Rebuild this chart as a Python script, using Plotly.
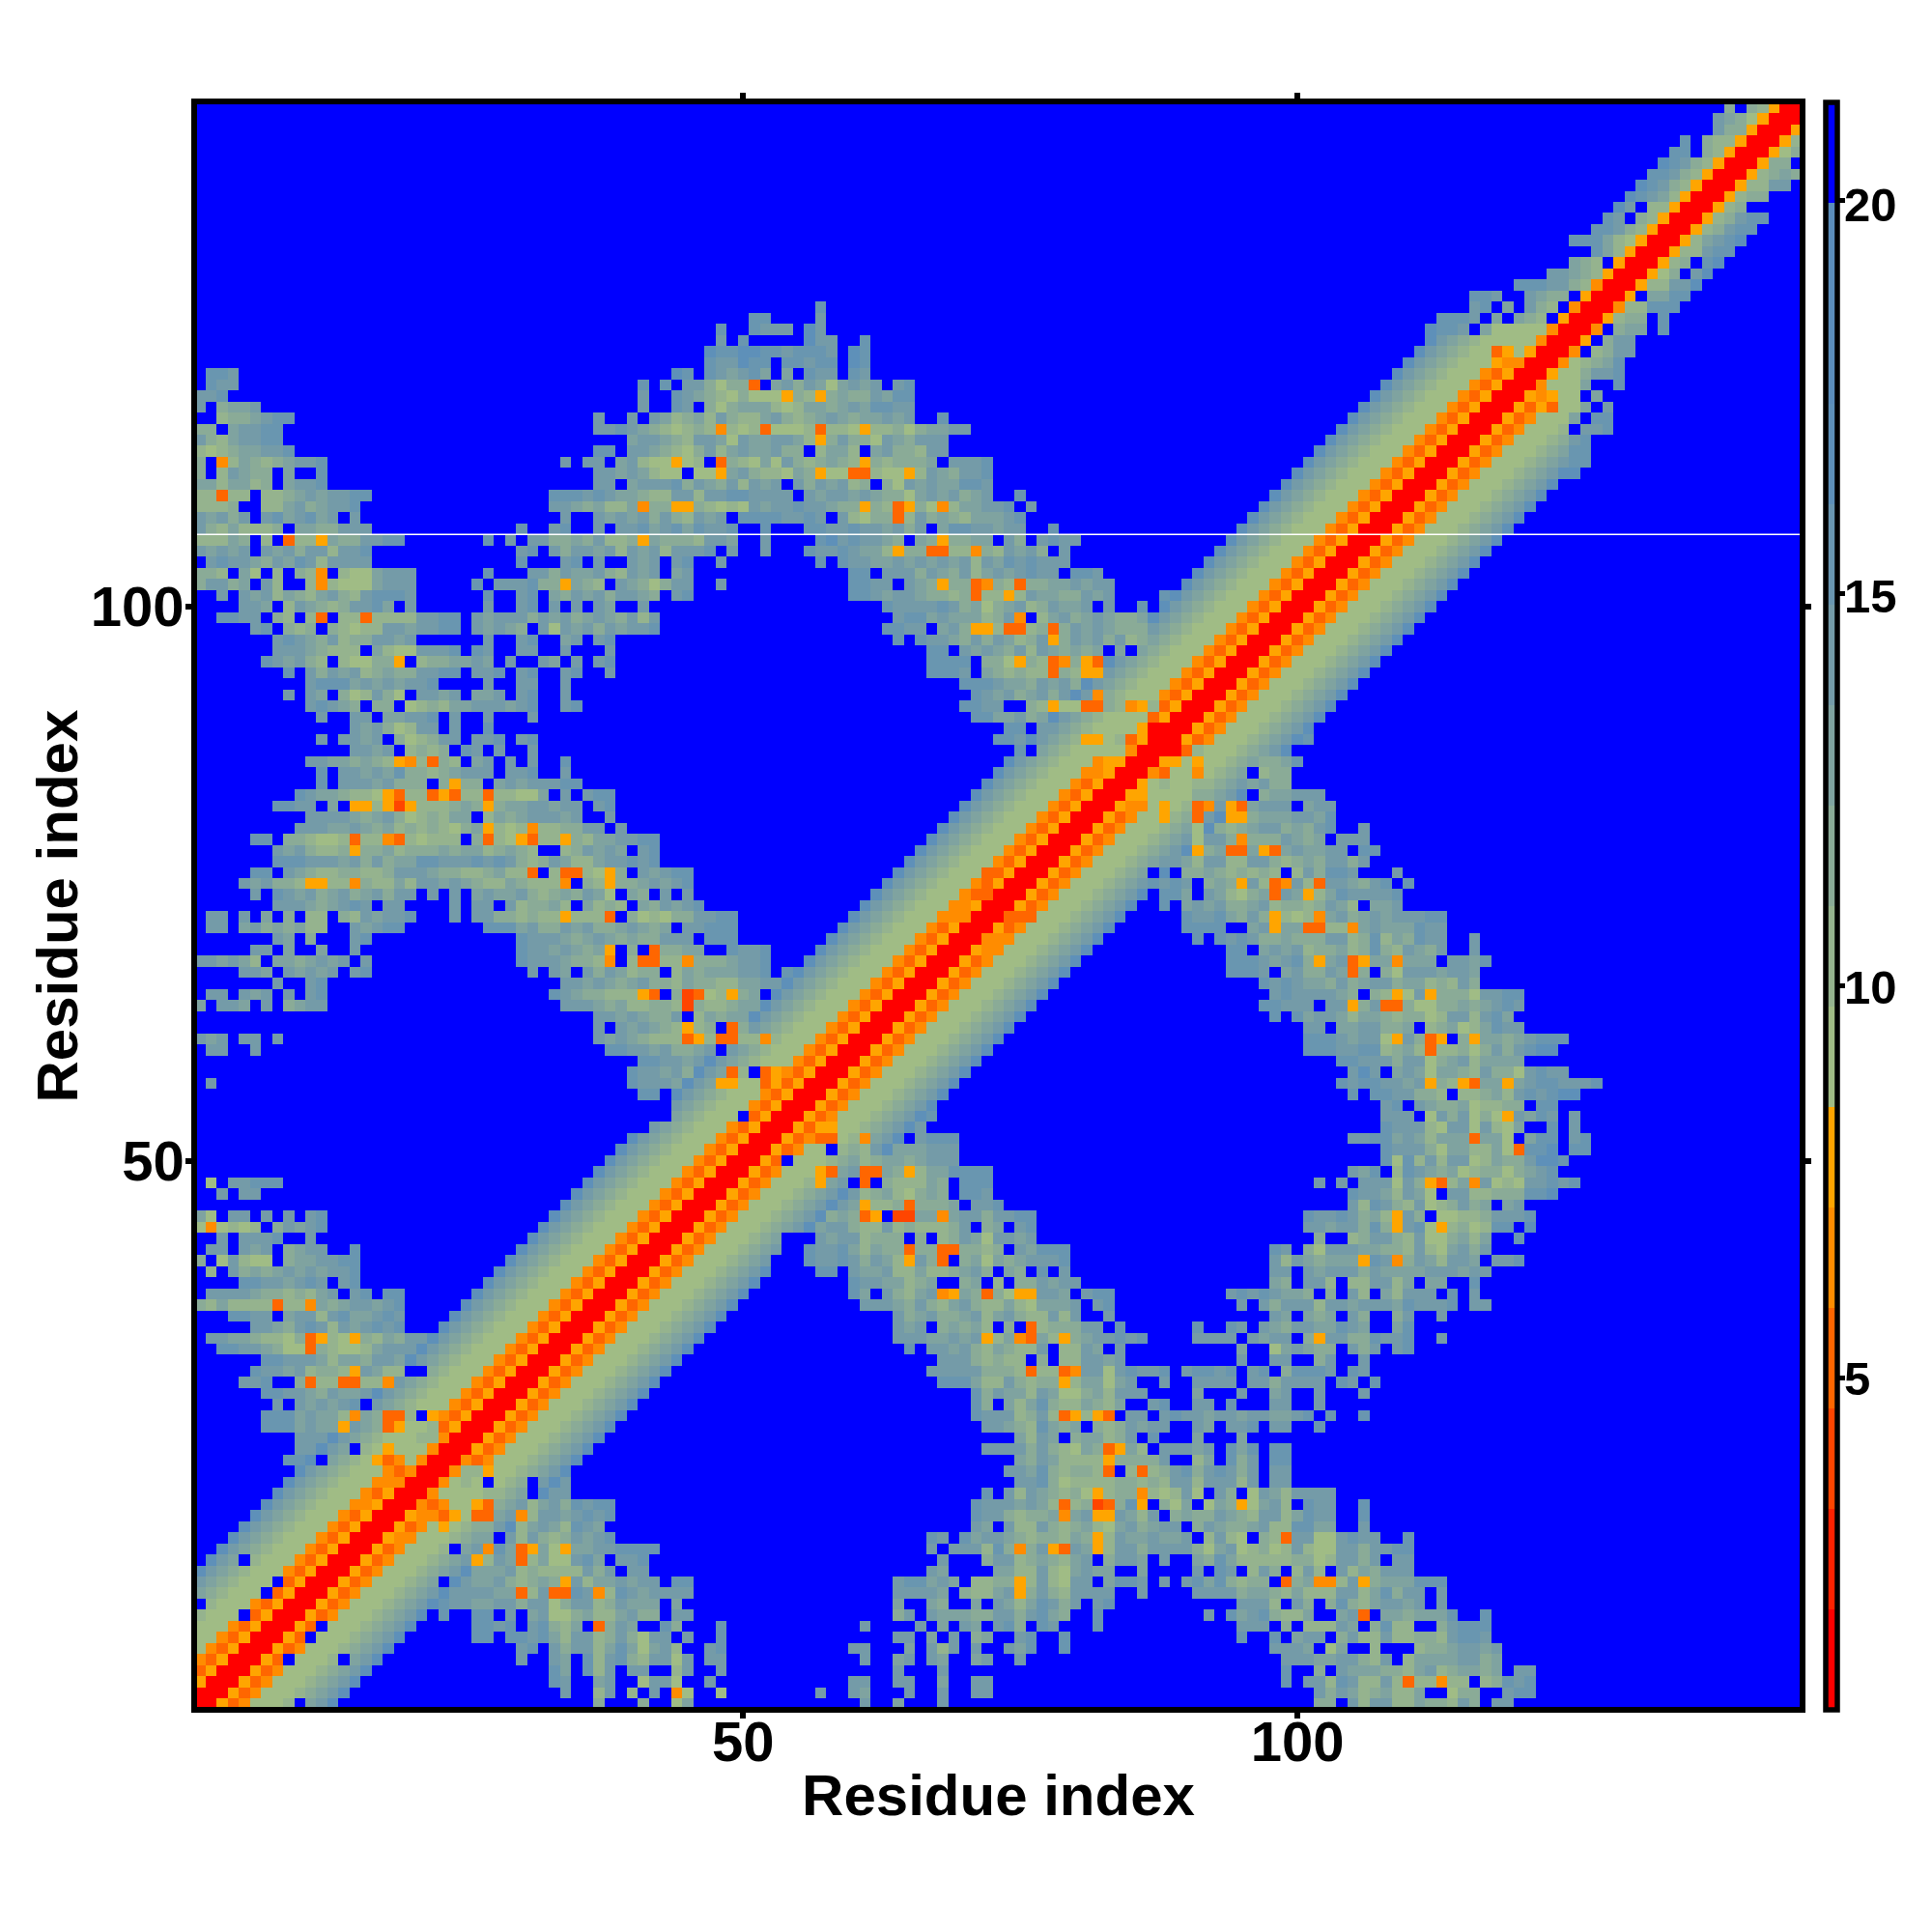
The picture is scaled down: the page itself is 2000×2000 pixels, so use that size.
import plotly.graph_objects as go

n_res = 145
tick_vals = [50, 100]
bar_ticks = [5, 10, 15, 20]
z_low = 0.78
z_high = 21.26
# one colour per step of the colour bar, bottom to top
level_colors = ['#FF0000', '#FF2200', '#FF4500', '#FF6600', '#FF8C00', '#FFA500',
                '#A0BC85', '#95B38E', '#8AAB97', '#7FA3A0', '#749BA8',
                '#6996B0', '#5E90B9', '#5B8DBB', '#5B8DBB', '#0000FF']

# step of the colour bar by distance from the diagonal
band_levels = [0, 0, 5, 3, 4, 6, 6, 6, 7, 8, 9, 10, 12]

cell_rows = [
    "145 133:......8.875",
    "144 132:......a9865",
    "143 131:.......a88",
    "142 130:.....b.877",
    "141 129:.....bb.87",
    "140 128:.....cba87",
    "139 127:.....bba87",
    "138 126:.....cba87",
    "137 125:.....cba97",
    "136 124:.....ca.77",
    "135 123:.....ba.87",
    "134 122:.....bba87",
    "133 121:....bbb976",
    "132 120:.......b97",
    "131 119:......987.",
    "130 118:.....aa987",
    "129 117:...bbbaa874",
    "128 116:bba..a988.",
    "127 57:b 115:.ab.9.a87.4",
    "126 51:bb 57:a 113:bbba.9.987.",
    "125 48:b 51:baaa 56:ca 112:cbba.9666664",
    "124 48:a 50:b 56:caa 61:b 120:664",
    "123 47:cbbccbbabbba 60:cb 118:3565",
    "122 47:baacbb 54:bbabb 60:cb 118:544",
    "121 2:bba 44:cb 47:ba9ab9 54:9 56:baa 60:ba",
    "120 2:baa 41:b 43:b 45:aa8688 51:3 53:9a8a969a9a 64:ab",
    "119 1:aab 41:a 44:ba98768666 54:5 55:87 57:5 58:8988a9bb",
    "118 1:a 3:899a 41:a 44:ba 47:8689997679989a9bbaa",
    "117 3:7889abb 37:a 40:a 42:a97897a8779a8789a9899a9a 68:b",
    "116 1:88 4:9aabb 37:aab 40:a9876787 48:4 49:767 52:3 53:6667 57:3 58:776 61:5 62:7786899aa",
    "115 1:a879aabb 40:9aa987aa96a99aa97 57:5 58:8a886a98aaa",
    "114 1:767899aab 37:bb 40:aa98768a79a99a88 57:7997 62:9a887aa",
    "113 1:8 3:4 4:798789aab 34:a 36:aa 39:9a766 44:5 45:67 48:3 49:87696a878987 61:5 62:878889 69:aaab",
    "112 1:8 3:7 4:a988 9:9 12:b 37:aa9a9766 46:66 48:5 49:9a877698 57:5 58:66 60:33 62:766 65:5 66:7a98aab",
    "111 1:9979978 9:9aab 37:aa 40:9aaab8a98a7a9a 55:a8a9a78 63:86a9a99bba",
    "110 1:77 3:3 4:77 7:7789a9aabb 33:bbbaba99877aa7aabbaaaa 56:a9aa9a98869a9a89a 75:b",
    "109 1:7778 7:779a89aab 33:aa989779 41:4 42:88 44:55 46:87676a9aabaa988 61:5 62:87 64:3 65:5 66:86 68:4 69:799aab 76:a",
    "108 1:a9a8a 7:ab9ab9a 15:a 34:a 37:a9a9a8a87a9a 50:bbbbaaba 59:a7688 64:3 65:7a8987999ab",
    "107 1:a8797778 10:9988aaa 30:b 33:ab 37:a 39:aab9ab9baab 52:b 56:bbaabaa9a8a 68:9bbaa9aa 78:b",
    "106 1:77798 7:7 9:3 10:77 12:5 13:988aabb 27:b 29:a 31:aa 32:a8898a778 41:5 42:98887aa9 52:a 57:bcabaa98 66:98 68:5 69:8899 74:a8 77:abaa",
    "105 1:a9a9a 7:a9a8aa7aab 30:ab 33:a8aa9a7a9a7aaab 49:a 52:a 56:baaba997 64:5 65:88 67:33 69:77 71:4 72:87a9a8 79:a",
    "104 2:abaa98a9ba7aaaa 30:b 34:ab 37:a 40:a9a 44:ab 48:a 57:b 59:baa99a9a9a9a7a9babaaa",
    "103 1:887 5:9 6:6 8:7 10:87 12:4 14:7669aaa 27:b 31:ab 32:a8a99a87a9a 44:9a 60:bb 63:aaa8a98a79a9abaa 80:bba",
    "102 1:8aa89 7:a7 11:7 12:4 13:76669aaa 26:b 28:aaab 32:88 34:5 35:98 37:7 39:a9868aa 48:a 60:bbaa 65:a98 68:5 69:88 71:3 72:4 73:87 75:3 76:8899a9 80:a9a 83:a",
    "101 3:a 5:a9a79879a87abbba 27:b 30:ab 33:98a9a8aa98 44:ab 60:bba9aa98878 71:3 72:77 74:5 75:7a9988a9a 88:b",
    "100 5:aa9 9:7a9878aab9 20:a 27:a 30:ab 33:a 35:a 37:a9 41:a 63:baaaaba89689a78a99a 83:a 86:b",
    "99 3:bbaa 8:87 11:7 12:3 14:77 16:3 17:7777aabb 26:a9aaa8a9a89a98a7a 64:abb9a99978a 75:4 77:79a89a9889",
    "98 6:ab 9:878 13:87677aa9aabb 26:a9a98 32:a6a9a8a9aab 63:bbaa 68:9a8 71:55 73:7 74:33 76:78 78:3 79:8a9a9888",
    "97 8:aba98a788aa9a 27:a 30:ab 34:9a 37:ab 64:b 66:baa98a8a978a 78:5 79:8a9a8a78",
    "96 8:aaa98777 17:97 19:66 21:aaab 26:ba 30:aa 34:a 38:a 67:bb 70:a9a98a7a98989 84:9.",
    "95 7:ba9a87 14:76688 19:5 21:78899a9 29:a 32:a9 35:a 37:ab 67:bbbb 72:886 75:5 76:87 78:3 79:4 80:8 81:5 82:3",
    "94 9:b 11:a8a9a78988aabb 26:aab 30:ab 34:ab 38:a 67:bbba 72:987877 78:3 79:87 81:55",
    "93 11:abbb9a9a9aab 27:a 30:aa 34:a 70:bbba998a9a8",
    "92 9:a 11:a9 14:867a8 19:6 21:aa9a 26:99a 30:ab 34:a 71:ba9a89a8a 82:4",
    "91 11:aba98 17:88 20:678799aaa9ab 34:ab 70:bbaa 76:87 78:5 79:66 81:33 83:87 85:457",
    "90 12:a 15:aa 18:99aab 24:a 27:a 31:a 71:bb99a89 86:6",
    "89 15:a9a867aa 24:a 27:b 74:bb 77:a 85:6500",
    "88 12:a 14:aa9a 19:8678aa 26:aab 30:ab 73:bba 81:55 84:7",
    "87 15:aa9a 20:7878 25:ba 28:a 31:a 75:b. 83:664",
    "86 11:aa998987 19:5 20:4 21:7 22:3 23:87 26:9a 29:a 31:a 34:b 82:455",
    "85 12:b 14:aa9a9b88789aaa 29:aab 34:a 82:45",
    "84 12:b 14:aaa9a888 23:8 24:5 25:88 28:9a9aaabb",
    "83 10:ba998776 18:5 19:3 20:77 22:3 23:5 24:3 25:77 27:3 28:77669 34:a 36:abb",
    "82 8:bbaa 13:9 15:55 17:7 18:5 19:2 20:5 21:777898 27:5 28:899aa9aa 37:ab",
    "81 11:aaaa989a8678799 27:7989aaa9a 38:a",
    "80 10:aaa99a98978787689 27:5 28:767 31:4 32:7788aa 39:a",
    "79 6:bb 9:887667 15:3 16:77 18:4 19:3 20:76777 26:8 27:3 28:76 30:5 31:3 32:77 34:5 35:8799aabb",
    "78 8:a9a8778 15:5 16:8897888989978987 34:78a9a9 41:ab",
    "77 8:bbbaaa9a8a899bbaaababa878a9779aabab",
    "76 6:bb 9:a987788778aaa988778977 31:3 33:7 34:33 36:76 38:5 39:8 41:a9abb 72:3",
    "75 5:a9a887 11:55 13:77 15:4 16:87797aa9a987798777 34:4 36:87 38:5 39:889a9ab",
    "74 6:a 8:ba9a89a89a8aa 22:a 24:a 26:9a99a87898a96 40:98 43:a 45:a 72:3",
    "73 8:aaa989aba 18:aa 24:a 26:aa 29:a78897 36:978 39:7 41:98a9ab 70:4",
    "72 2:aa 5:a 7:9 9:8 11:77 14:87a9aab 24:a 26:aa887877 34:5 35:777 38:3 40:867688aabb 69:44",
    "71 2:aa 5:9a898977 15:a9abb 27:bbb9a88a9a889a989 45:aabbb",
    "70 8:a9 11:8 15:ab 30:baaa989a98988aaa 47:bbb",
    "69 6:aa 9:9 12:9 15:a 30:baa9a989 38:5 40:8 42:3 43:8899 49:baab",
    "68 1:aa9a97 8:9989a9a 16:a 30:baaa9887 38:4 40:7 41:33 43:77 45:4 46:8889aab",
    "67 5:aa9 9:a9a9a 15:ab 31:a 33:a 34:9 36:a8a9788 44:798999aab 54:b",
    "66 8:a 11:ab 34:aa9a989a8879887799aa",
    "65 2:aa 5:a9a 9:a 11:ab 33:ba988777 41:5 42:3 44:8 45:2 46:3 47:67 49:5 50:89.",
    "64 1:9 3:aa9 7:a 9:89aa 34:aaa98977887 45:2 46:877899",
    "63 37:aa9a988a 46:79899",
    "62 37:a 39:a9a987 45:5 46:78 49:3 50:8",
    "61 1:a9a 5:aa 8:a 37:a9a98777 45:3 46:5 47:7 48:33 50:77 52:4",
    "60 2:aa 6:a 38:bbaa9a889a 48:.",
    "59 41:bbaa9a",
    "58 40:baa9a8 49:3 51:. 52:3 53:5",
    "57 2:a 40:baaa9 48:55 52:3 53:5",
    "56 41:bb",
    "55 43:.",
    "54 42:.. 50:.",
    "53 41:.",
    "48 2:6 4:aabbb",
    "47 3:a 5:aa",
    "45 1:96 4:aa 7:a 9:a 11:ab",
    "44 1:6 2:4 3:6767 7:. 8:8a9ab",
    "43 3:a 5:aaab 11:a",
    "42 2:aa 5:a9a 9:89aa 15:b",
    "41 1:8 3:6a766 9:899aabb",
    "40 2:7 4:a8989a9a9aab",
    "39 5:bbaa9aba 14:ab",
    "38 2:aaaa9887879a 15:ab 18:bb",
    "37 1:8797777 8:3 9:77 11:4 12:989aa9ab",
    "36 4:bbaa 9:9aa7ab99aba",
    "35 6:aa98aba7a9abab",
    "34 2:aa9987768 11:3 12:5 13:76 15:5 16:8798aa",
    "33 3:bbaa9866 11:3 12:876679aaa",
    "32 7:bbaaa97998aa9",
    "31 6:baa9a7887 15:5 16:a977 20:..",
    "30 5:aab 10:8 11:3 12:77 14:33 16:77 18:4",
    "29 7:bbaa98a99a",
    "28 8:a 10:a9a9ab 16:.",
    "27 7:bbb9a99 14:7 15:4 16:98 18:33 20:7 21:. 22:5",
    "26 7:bbb9a99 14:5 18:3 19:5 22:7",
    "25 10:aaa 21:77 23:4",
    "24 10:aa 15:. 18:5 20:66 22:4",
    "23 9:bb 12:. 17:5 18:3 19:4 20:6 21:4",
    "22 20:4",
    "21 18:44",
    "19 16:4 17:5",
    "14 5:.",
    "12 8:.",
    "11 7:.",
    "10 1:.",
    "9 5:.",
]

step = (z_high - z_low) / len(level_colors)


def level_value(level):
    return z_low + step * (level + 0.5)


blue = len(level_colors) - 1
levels = [[blue] * n_res for _ in range(n_res)]
for i in range(n_res):
    for j in range(n_res):
        if abs(i - j) < len(band_levels):
            levels[i][j] = band_levels[abs(i - j)]

for row in cell_rows:
    parts = row.split()
    y = int(parts[0])
    for part in parts[1:]:
        start, cells = part.split(':')
        for k, c in enumerate(cells):
            x = int(start) + k
            level = blue if c == '.' else int(c, 16)
            levels[y - 1][x - 1] = level
            levels[x - 1][y - 1] = level  # the map is symmetric

z = [[level_value(v) for v in line] for line in levels]

colorscale = []
for i, c in enumerate(level_colors):
    colorscale.append([i / len(level_colors), c])
    colorscale.append([(i + 1) / len(level_colors), c])

fig = go.Figure()
fig.add_trace(go.Heatmap(
    x=list(range(1, n_res + 1)), y=list(range(1, n_res + 1)), z=z,
    zmin=z_low, zmax=z_high, colorscale=colorscale, xgap=0, ygap=0, hoverinfo='skip',
    colorbar=dict(
        thickness=11.5, thicknessmode='pixels', len=1.0033, lenmode='fraction', y=0.5, yanchor='middle', ypad=0,
        x=1881.5 / 2000, xref='container', xanchor='left', xpad=0,
        outlinecolor='black', outlinewidth=5.5,
        tickmode='array', tickvals=bar_ticks, ticktext=['' for v in bar_ticks],
        ticks='outside', ticklen=6, tickwidth=5, tickcolor='black',
    ),
))

# colour bar labels sit closer to the bar than plotly puts them
for v in bar_ticks:
    fig.add_annotation(text=str(v), xref='paper', yref='paper', x=1.0268, y=(v - z_low) / (z_high - z_low),
                       xanchor='left', yanchor='middle', showarrow=False, yshift=-2,
                       font=dict(family='Liberation Sans', size=49, weight='bold', color='black'))

# thin white seam across the map
fig.add_shape(type='line', x0=0.74, x1=145.3, y0=106.5, y1=106.5,
              line=dict(color='white', width=1.5))

axis_style = dict(
    tickmode='array', tickvals=tick_vals, ticktext=[str(v) for v in tick_vals],
    ticks='outside', ticklen=6, tickwidth=6, tickcolor='black',
    showline=True, linecolor='black', linewidth=5.5, mirror='ticks',
    showgrid=False, zeroline=False, automargin=False,
    tickfont=dict(family='Liberation Sans', size=58, weight='bold', color='black'),
)
title_font = dict(family='Liberation Sans', size=60, weight='bold', color='black')

fig.add_annotation(text='Residue index', xref='paper', yref='paper', x=-0.0868, y=0.5,
                   textangle=-90, xanchor='center', yanchor='middle', showarrow=False, font=title_font)

fig.update_layout(
    width=2000, height=2000, autosize=False,
    margin=dict(l=196, r=144.5, t=100, b=241, autoexpand=False),
    paper_bgcolor='white', plot_bgcolor='white', showlegend=False,
    xaxis=dict(range=[0.74, 145.3], anchor='y', ticklabelstandoff=-25,
               title=dict(text='Residue index', font=title_font, standoff=5), **axis_style),
    yaxis=dict(range=[0.74, 145.3], anchor='x', ticklabelstandoff=-10, **axis_style),
)

fig.write_html("out.html")
